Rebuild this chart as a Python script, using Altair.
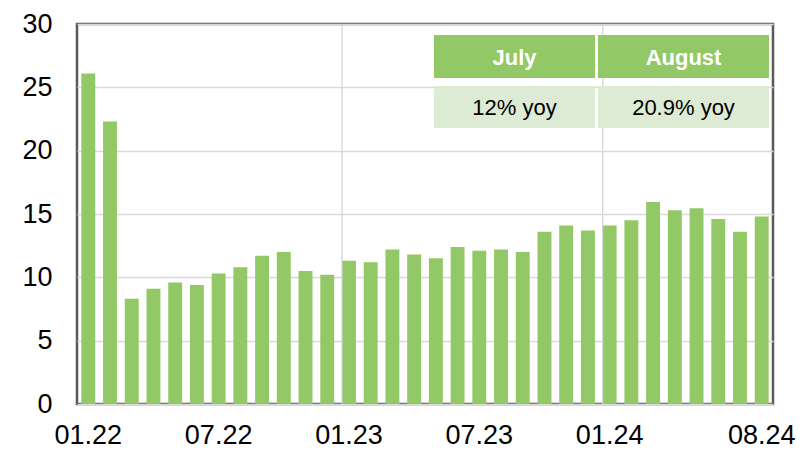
import altair as alt
import pandas as pd

months = [
    "01.22", "02.22", "03.22", "04.22", "05.22", "06.22", "07.22", "08.22",
    "09.22", "10.22", "11.22", "12.22",
    "01.23", "02.23", "03.23", "04.23", "05.23", "06.23", "07.23", "08.23",
    "09.23", "10.23", "11.23", "12.23",
    "01.24", "02.24", "03.24", "04.24", "05.24", "06.24", "07.24", "08.24",
]
values = [
    26.1, 22.3, 8.3, 9.1, 9.6, 9.4, 10.3, 10.8, 11.7, 12.0, 10.5, 10.2,
    11.3, 11.2, 12.2, 11.8, 11.5, 12.4, 12.1, 12.2, 12.0, 13.6, 14.1, 13.7,
    14.1, 14.5, 15.95, 15.3, 15.45, 14.6, 13.6, 14.8,
]
tick_labels = ["01.22", "07.22", "01.23", "07.23", "01.24", "08.24"]
year_starts = ["01.23", "01.24"]
table_headers = ["July", "August"]
table_values = ["12% yoy", "20.9% yoy"]

BAR = "#92C865"
LIGHT = "#DDEBD4"
FONT = "Liberation Sans"

df = pd.DataFrame({"month": months, "value": values})
xscale = alt.Scale(domain=months, paddingInner=0.36, paddingOuter=0.2)

bars = alt.Chart(df).mark_bar(color=BAR).encode(
    x=alt.X(
        "month:N",
        scale=xscale,
        sort=months,
        axis=alt.Axis(
            values=tick_labels,
            labelAngle=0,
            labelAlign="center",
            bandPosition=0.5,
            ticks=False,
            tickSize=0,
            domain=False,
            grid=False,
            labelFontSize=27,
            labelFont=FONT,
            labelColor="#000000",
            labelPadding=31,
            labelBaseline="middle",
            title=None,
        ),
    ),
    y=alt.Y(
        "value:Q",
        scale=alt.Scale(domain=[0, 30], nice=False),
        axis=alt.Axis(
            values=[0, 5, 10, 15, 20, 25, 30],
            ticks=False,
            tickSize=0,
            domain=False,
            grid=True,
            gridColor="#D9D9D9",
            gridWidth=1.5,
            labelFontSize=27,
            labelFont=FONT,
            labelColor="#000000",
            labelPadding=25,
            title=None,
        ),
    ),
)

rules = alt.Chart(pd.DataFrame({"month": year_starts})).mark_rule(
    color="#CDD3D9", strokeWidth=1.2
).encode(
    x=alt.X("month:N", scale=xscale, sort=months, bandPosition=0),
)

# summary table (annotation), pixel offsets inside the plot area
cells = pd.DataFrame({
    "header": table_headers,
    "val": table_values,
    "x0": [357, 521],
    "x1": [518, 692],
})
cells["xc"] = (cells["x0"] + cells["x1"]) / 2

hdr_rect = alt.Chart(cells).mark_rect(color=BAR).encode(
    x=alt.X("x0:Q", scale=None), x2="x1:Q",
    y=alt.value(11), y2=alt.value(54),
)
val_rect = alt.Chart(cells).mark_rect(color=LIGHT).encode(
    x=alt.X("x0:Q", scale=None), x2="x1:Q",
    y=alt.value(62), y2=alt.value(104),
)
hdr_text = alt.Chart(cells).mark_text(
    font=FONT, fontSize=22, fontWeight="bold", color="white", baseline="middle"
).encode(
    x=alt.X("xc:Q", scale=None), y=alt.value(34), text="header:N"
)
val_text = alt.Chart(cells).mark_text(
    font=FONT, fontSize=22, color="black", baseline="middle"
).encode(
    x=alt.X("xc:Q", scale=None), y=alt.value(84), text="val:N"
)

chart = alt.layer(bars, rules, hdr_rect, val_rect, hdr_text, val_text).properties(
    width=696,
    height=380,
    autosize=alt.AutoSizeParams(type="none"),
    padding={"left": 69, "top": 16, "right": 23, "bottom": 46},
    background="white",
).configure_view(
    stroke="#5A5A5A", strokeWidth=2.5
)

chart.save("out.html", embed_options={"renderer": "svg", "actions": False})
